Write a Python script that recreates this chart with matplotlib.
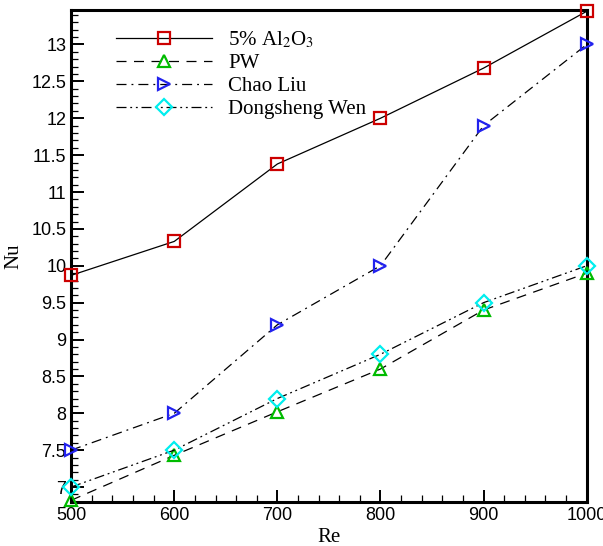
import matplotlib
matplotlib.use("Agg")
import matplotlib.pyplot as plt
from matplotlib.ticker import MultipleLocator

re = [500, 600, 700, 800, 900, 1000]
nu_al2o3 = [9.87, 10.33, 11.38, 12.0, 12.68, 13.45]
nu_pw = [6.82, 7.43, 8.02, 8.6, 9.4, 9.9]
nu_liu = [7.5, 8.0, 9.2, 10.0, 11.9, 13.0]
nu_wen = [7.0, 7.5, 8.2, 8.8, 9.5, 10.0]
yticks = [7, 7.5, 8, 8.5, 9, 9.5, 10, 10.5, 11, 11.5, 12, 12.5, 13]
ytick_labels = ['7', '7.5', '8', '8.5', '9', '9.5', '10', '10.5', '11', '11.5', '12', '12.5', '13']

plt.rcParams['mathtext.fontset'] = 'stix'

fig = plt.figure(figsize=(6.03, 5.46), dpi=100)
ax = fig.add_axes([0.118, 0.081, 0.855, 0.901])

mk = dict(markersize=9, markerfacecolor='none', markeredgewidth=1.6, clip_on=False, zorder=3)
ax.plot(re, nu_al2o3, '-', color='black', lw=0.9, marker='s', markeredgecolor='#cc0000',
        label='5% Al$_2$O$_3$', **mk)
ax.plot(re, nu_pw, color='black', lw=0.9, ls=(0, (8, 6)), marker='^', markeredgecolor='#00bb00',
        label='PW', **mk)
ax.plot(re, nu_liu, color='black', lw=0.9, ls=(0, (8, 4, 1.5, 4)), marker='>', markeredgecolor='#2222ee',
        label='Chao Liu', **mk)
ax.plot(re, nu_wen, color='black', lw=0.9, ls=(0, (8, 3, 1.5, 3, 1.5, 3)), marker='D', markeredgecolor='#00eeee',
        label='Dongsheng Wen', markersize=8, markerfacecolor='none', markeredgewidth=1.6,
        clip_on=False, zorder=3)

ax.set_xlim(500, 1000)
ax.set_ylim(6.8, 13.47)
ax.xaxis.set_major_locator(MultipleLocator(100))
ax.xaxis.set_minor_locator(MultipleLocator(20))
ax.set_yticks(yticks)
ax.set_yticklabels(ytick_labels)
ax.yaxis.set_minor_locator(MultipleLocator(0.1))
ax.tick_params(which='both', direction='in', labelsize=13)
ax.tick_params(which='major', length=9, width=1.4)
ax.tick_params(which='minor', length=5, width=0.9)
for lab in ax.get_xticklabels() + ax.get_yticklabels():
    lab.set_fontfamily('Liberation Sans')
for s in ax.spines.values():
    s.set_linewidth(2.2)

ax.set_xlabel('Re', fontfamily='Liberation Serif', fontsize=15, labelpad=3)
ax.set_ylabel('Nu', fontfamily='Liberation Serif', fontsize=15, labelpad=6)

ax.legend(loc='upper left', bbox_to_anchor=(0.05, 0.997), frameon=False, handlelength=4.6,
          labelspacing=0.15, prop={'family': 'Liberation Serif', 'size': 15}, handletextpad=0.8)

fig.savefig('out.png', dpi=100)
